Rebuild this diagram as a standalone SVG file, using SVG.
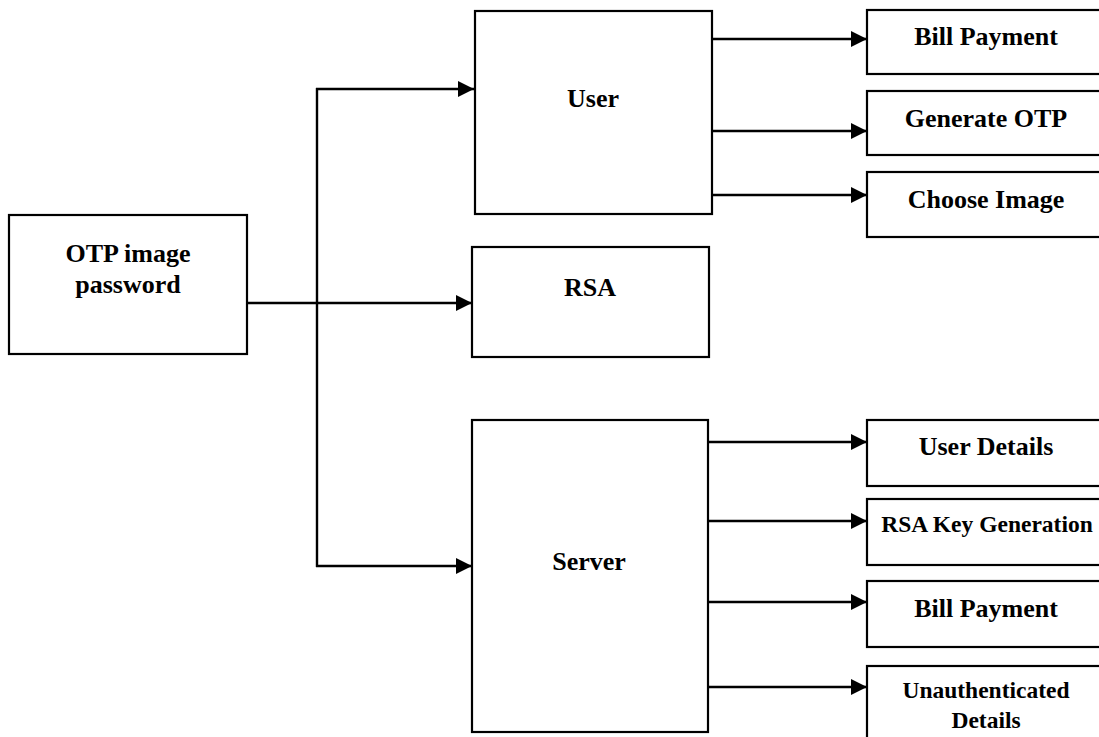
<svg xmlns="http://www.w3.org/2000/svg" width="1099" height="737" viewBox="0 0 1099 737">
  <style>
    .box { fill: #ffffff; stroke: #000000; stroke-width: 2.2; }
    .lbl { font-family: "Liberation Serif", "Times New Roman", serif; font-weight: bold; font-size: 26px; fill: #000000; text-anchor: middle; }
    .sm { font-size: 23.5px; }
    .wire { fill: none; stroke: #000000; stroke-width: 2.4; }
  </style>
  <defs>
    <marker id="head" markerUnits="userSpaceOnUse" markerWidth="18" markerHeight="18" refX="16" refY="8" orient="auto">
      <path d="M0,0 L16,8 L0,16 Z" fill="#000000"/>
    </marker>
  </defs>
  <rect width="1099" height="737" fill="#ffffff"/>

  <!-- connectors -->
  <g id="connectors">
    <line class="wire" x1="247" y1="303" x2="472" y2="303" marker-end="url(#head)"/>
    <line class="wire" x1="317" y1="88" x2="317" y2="567"/>
    <line class="wire" x1="316" y1="89" x2="474" y2="89" marker-end="url(#head)"/>
    <line class="wire" x1="316" y1="566" x2="472" y2="566" marker-end="url(#head)"/>

    <line class="wire" x1="712" y1="39" x2="867" y2="39" marker-end="url(#head)"/>
    <line class="wire" x1="712" y1="131" x2="867" y2="131" marker-end="url(#head)"/>
    <line class="wire" x1="712" y1="195" x2="867" y2="195" marker-end="url(#head)"/>

    <line class="wire" x1="708" y1="442" x2="867" y2="442" marker-end="url(#head)"/>
    <line class="wire" x1="708" y1="521" x2="867" y2="521" marker-end="url(#head)"/>
    <line class="wire" x1="708" y1="602" x2="867" y2="602" marker-end="url(#head)"/>
    <line class="wire" x1="708" y1="687" x2="867" y2="687" marker-end="url(#head)"/>
  </g>

  <!-- root node -->
  <g id="otp">
    <rect class="box" x="9" y="215" width="238" height="139"/>
    <text class="lbl" x="128" y="262">OTP image</text>
    <text class="lbl" x="128" y="293">password</text>
  </g>

  <!-- second level -->
  <g id="user">
    <rect class="box" x="475" y="11" width="237" height="203"/>
    <text class="lbl" x="593" y="107">User</text>
  </g>
  <g id="rsa">
    <rect class="box" x="472" y="247" width="237" height="110"/>
    <text class="lbl" x="590" y="296">RSA</text>
  </g>
  <g id="server">
    <rect class="box" x="472" y="420" width="236" height="312"/>
    <text class="lbl" x="589" y="570">Server</text>
  </g>

  <!-- user functions -->
  <g id="user-bill">
    <rect class="box" x="867" y="10" width="240" height="64"/>
    <text class="lbl" x="986" y="45">Bill Payment</text>
  </g>
  <g id="user-otp">
    <rect class="box" x="867" y="91" width="240" height="64"/>
    <text class="lbl" x="986" y="127">Generate OTP</text>
  </g>
  <g id="user-image">
    <rect class="box" x="867" y="172" width="240" height="65"/>
    <text class="lbl" x="986" y="208">Choose Image</text>
  </g>

  <!-- server functions -->
  <g id="server-details">
    <rect class="box" x="867" y="420" width="240" height="66"/>
    <text class="lbl" x="986" y="455">User Details</text>
  </g>
  <g id="server-keygen">
    <rect class="box" x="867" y="499" width="240" height="66"/>
    <text class="lbl sm" x="987" y="532">RSA Key Generation</text>
  </g>
  <g id="server-bill">
    <rect class="box" x="867" y="581" width="240" height="66"/>
    <text class="lbl" x="986" y="617">Bill Payment</text>
  </g>
  <g id="server-unauth">
    <rect class="box" x="867" y="666" width="240" height="90"/>
    <text class="lbl sm" x="986" y="698">Unauthenticated</text>
    <text class="lbl sm" x="986" y="728">Details</text>
  </g>
</svg>
